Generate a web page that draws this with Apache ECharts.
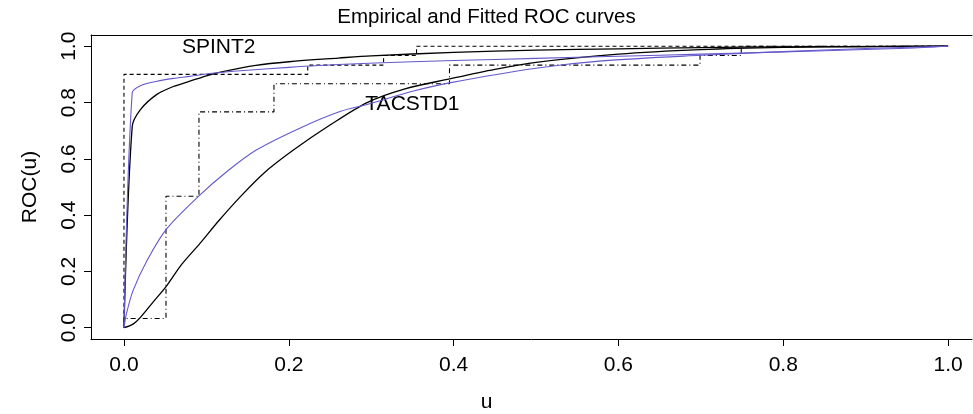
<!DOCTYPE html>
<html>
<head>
<meta charset="utf-8">
<script src="https://cdn.jsdelivr.net/npm/echarts@6/dist/echarts.min.js"></script>
<style>html,body{margin:0;padding:0;background:#fff;}#c{width:973px;height:414px;}</style>
</head>
<body>
<div id="c"></div>
<script>
// Tick labels
var tickValues = [0, 0.2, 0.4, 0.6, 0.8, 1.0];

// Empirical ROC (step) curves
var spintEmpU   = [0, 0, 0.223, 0.315, 0.355, 1];
var spintEmpROC = [0, 0.9, 0.933, 0.967, 1, 1];
var tacEmpU     = [0, 0, 0.051, 0.091, 0.182, 0.395, 0.699, 0.749, 1];
var tacEmpROC   = [0, 0.033, 0.467, 0.767, 0.867, 0.933, 0.967, 1, 1];

// Fitted curves - SPINT2
var spintBlackU   = [0, 0.01, 0.02, 0.04, 0.06, 0.08, 0.10, 0.12, 0.16, 0.20, 0.26, 0.30, 0.40, 0.50, 0.60, 0.70, 0.80, 0.90, 1.0];
var spintBlackROC = [0, 0.715, 0.775, 0.829, 0.857, 0.876, 0.895, 0.910, 0.932, 0.945, 0.958, 0.966, 0.978, 0.986, 0.991, 0.995, 0.998, 0.999, 1.0];
var spintBlueU    = [0, 0.01, 0.02, 0.04, 0.06, 0.08, 0.11, 0.15, 0.20, 0.26, 0.35, 0.45, 0.55, 0.65, 0.75, 0.85, 0.95, 1.0];
var spintBlueROC  = [0, 0.835, 0.860, 0.876, 0.886, 0.893, 0.905, 0.915, 0.925, 0.935, 0.945, 0.953, 0.961, 0.968, 0.976, 0.984, 0.993, 1.0];

// Fitted curves - TACSTD1
var tacBlackU   = [0, 0.011, 0.02, 0.035, 0.052, 0.07, 0.092, 0.115, 0.141, 0.17, 0.206, 0.25, 0.295, 0.34, 0.395, 0.45, 0.5, 0.6, 0.7, 0.8, 0.9, 1];
var tacBlackROC = [0, 0.013, 0.037, 0.09, 0.15, 0.225, 0.299, 0.38, 0.465, 0.55, 0.632, 0.72, 0.80, 0.848, 0.884, 0.918, 0.943, 0.972, 0.988, 0.996, 0.999, 1];
var tacBlueU    = [0, 0.003, 0.011, 0.028, 0.052, 0.092, 0.125, 0.161, 0.214, 0.263, 0.295, 0.35, 0.395, 0.5, 0.58, 0.7, 0.8, 0.9, 1.0];
var tacBlueROC  = [0, 0.05, 0.132, 0.239, 0.352, 0.471, 0.555, 0.632, 0.71, 0.769, 0.793, 0.84, 0.87, 0.922, 0.948, 0.968, 0.981, 0.992, 1.0];

// Text annotations
var annoNames = ['SPINT2', 'TACSTD1'];
var annoU     = [0.115, 0.350];
var annoROC   = [0.995, 0.793];

function pairs(xs, ys) { return xs.map(function (x, i) { return [x, ys[i]]; }); }

var FONT = 'Liberation Sans, Arial, Helvetica, sans-serif';
var BLUE = '#6358CC';
var FS = 21;

var chart = echarts.init(document.getElementById('c'), null, {renderer: 'canvas'});
chart.setOption({
  animation: false,
  backgroundColor: '#ffffff',
  title: [
    {text: 'Empirical and Fitted ROC curves', left: 'center', top: 2,
     textStyle: {fontFamily: FONT, fontSize: 20.5, fontWeight: 'normal', color: '#000'}},
    {text: 'u', left: 'center', top: 387,
     textStyle: {fontFamily: FONT, fontSize: FS, fontWeight: 'normal', color: '#000'}}
  ],
  grid: {left: 91, top: 35, width: 881, height: 304, show: false, containLabel: false},
  xAxis: [{
    type: 'value', min: -0.04, max: 1.029, position: 'bottom',
    axisLine: {show: true, onZero: false, lineStyle: {color: '#000', width: 1}},
    axisTick: {show: true, customValues: tickValues, length: 7, inside: false, lineStyle: {color: '#000'}},
    axisLabel: {customValues: tickValues, formatter: function (v) { return v.toFixed(1); },
      margin: 16, fontFamily: FONT, fontSize: FS, color: '#000'},
    splitLine: {show: false}
  }, {
    type: 'value', min: -0.04, max: 1.029, position: 'top',
    axisLine: {show: true, onZero: false, lineStyle: {color: '#000', width: 1}},
    axisTick: {show: false}, axisLabel: {show: false}, splitLine: {show: false}
  }],
  yAxis: {
    type: 'value', min: -0.04, max: 1.04,
    name: 'ROC(u)', nameLocation: 'middle', nameGap: 50, nameRotate: 90,
    nameTextStyle: {fontFamily: FONT, fontSize: FS, color: '#000'},
    axisLine: {show: true, onZero: false, lineStyle: {color: '#000', width: 1}},
    axisTick: {show: true, customValues: tickValues, length: 7, inside: false, lineStyle: {color: '#000'}},
    axisLabel: {customValues: tickValues, formatter: function (v) { return v.toFixed(1); },
      rotate: 90, margin: 11, fontFamily: FONT, fontSize: FS, color: '#000', verticalAlign: 'bottom', align: 'center'},
    splitLine: {show: false}
  },
  series: [
    {type: 'line', data: pairs(spintEmpU, spintEmpROC), step: 'end', showSymbol: false,
     lineStyle: {color: '#000', width: 1.1, type: [4, 3]}},
    {type: 'line', data: pairs(tacEmpU, tacEmpROC), step: 'end', showSymbol: false,
     lineStyle: {color: '#000', width: 1.1, type: [1, 3, 5, 3]}},
    {type: 'line', data: pairs(spintBlackU, spintBlackROC), showSymbol: false, smooth: 0.3,
     lineStyle: {color: '#000', width: 1.3}},
    {type: 'line', data: pairs(tacBlackU, tacBlackROC), showSymbol: false, smooth: 0.3,
     lineStyle: {color: '#000', width: 1.3}},
    {type: 'line', data: pairs(spintBlueU, spintBlueROC), showSymbol: false, smooth: 0.3,
     lineStyle: {color: BLUE, width: 1.1}},
    {type: 'line', data: pairs(tacBlueU, tacBlueROC), showSymbol: false, smooth: 0.3,
     lineStyle: {color: BLUE, width: 1.1}},
    {type: 'scatter', symbolSize: 0, silent: true, itemStyle: {opacity: 1},
     data: annoNames.map(function (n, i) { return {name: n, value: [annoU[i], annoROC[i]]}; }),
     label: {show: true, position: 'inside', formatter: '{b}', fontFamily: FONT, fontSize: FS, color: '#000', opacity: 1}}
  ]
});
</script>
</body>
</html>
